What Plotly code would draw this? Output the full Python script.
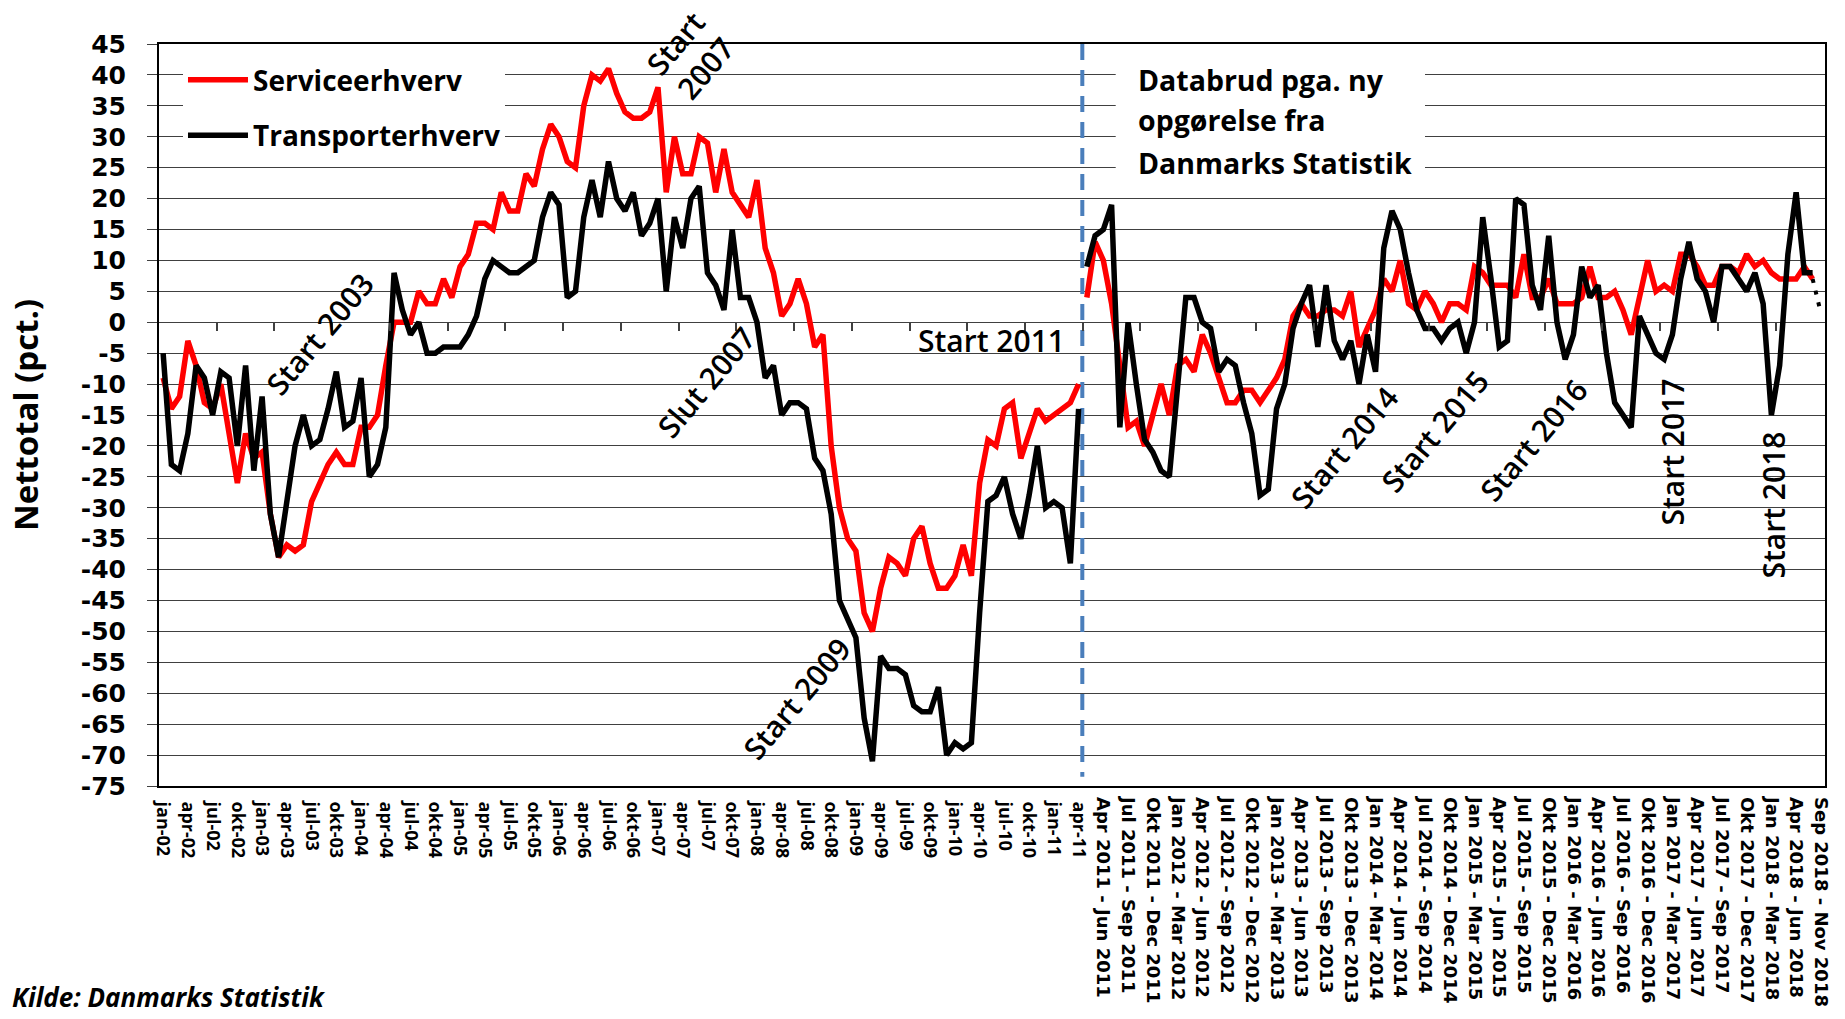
import plotly.graph_objects as go

# ---------------- data ----------------
# Section 1: monthly, jan-02 .. apr-11
service_1 = [-9, -14, -12, -3, -7, -13, -14, -10, -18, -26, -18, -22, -21, -31, -38, -36, -37, -36, -29, -26,
             -23, -21, -23, -23, -17, -17, -15, -7, 0, 0, 0, 5, 3, 3, 7, 4, 9, 11, 16, 16,
             15, 21, 18, 18, 24, 22, 28, 32, 30, 26, 25, 35, 40, 39, 41, 37, 34, 33, 33, 34,
             38, 21, 30, 24, 24, 30, 29, 21, 28, 21, 19, 17, 23, 12, 8, 1, 3, 7, 3, -4,
             -2, -20, -30, -35, -37, -47, -50, -43, -38, -39, -41, -35, -33, -39, -43, -43, -41, -36, -41, -26,
             -19, -20, -14, -13, -22, -18, -14, -16, -15, -14, -13, -10]
transport_1 = [-5, -23, -24, -18, -7, -9, -15, -8, -9, -20, -7, -24, -12, -31, -38, -29, -20, -15, -20, -19,
               -14, -8, -17, -16, -9, -25, -23, -17, 8, 2, -2, 0, -5, -5, -4, -4, -4, -2, 1, 7,
               10, 9, 8, 8, 9, 10, 17, 21, 19, 4, 5, 17, 23, 17, 26, 20, 18, 21, 14, 16,
               20, 5, 17, 12, 20, 22, 8, 6, 2, 15, 4, 4, 0, -9, -7, -15, -13, -13, -14, -22,
               -24, -31, -45, -48, -51, -64, -71, -54, -56, -56, -57, -62, -63, -63, -59, -70, -68, -69, -68, -47,
               -29, -28, -25, -31, -35, -28, -20, -30, -29, -30, -39, -14]
# Section 2: rolling 3-month periods after the data break
service_2 = [4, 13, 10, 3, -7, -17, -16, -20, -15, -10, -15, -7, -6, -8, -2, -5, -9, -13, -13, -11,
             -11, -13, -11, -9, -6, 1, 3, 1, 1, 2, 2, 1, 5, -4, -1, 2, 7, 5, 10, 3,
             2, 5, 3, 0, 3, 3, 2, 9, 8, 6, 6, 6, 4, 11, 4, 4, 7, 3, 3, 3,
             4, 9, 4, 4, 5, 2, -2, 4, 10, 5, 6, 5, 11, 11, 9, 6, 6, 9, 9, 8,
             11, 9, 10, 8, 7, 7, 7, 9, 7]
transport_2 = [9, 14, 15, 19, -17, 0, -10, -19, -21, -24, -25, -11, 4, 4, 0, -1, -8, -6, -7, -13,
               -18, -28, -27, -14, -10, -1, 3, 6, -4, 6, -3, -6, -3, -10, -2, -8, 12, 18, 15, 8,
               2, -1, -1, -3, -1, 0, -5, 0, 17, 7, -4, -3, 20, 19, 6, 2, 14, 0, -6, -2,
               9, 4, 6, -5, -13, -15, -17, 1, -2, -5, -6, -2, 7, 13, 7, 5, 0, 9, 9, 7,
               5, 8, 3, -15, -7, 11, 21, 8, 8]
end_dotted = [7, 1.5]

tick_labels_1 = ["jan-02", "apr-02", "jul-02", "okt-02", "jan-03", "apr-03", "jul-03", "okt-03",
                 "jan-04", "apr-04", "jul-04", "okt-04", "jan-05", "apr-05", "jul-05", "okt-05",
                 "jan-06", "apr-06", "jul-06", "okt-06", "jan-07", "apr-07", "jul-07", "okt-07",
                 "jan-08", "apr-08", "jul-08", "okt-08", "jan-09", "apr-09", "jul-09", "okt-09",
                 "jan-10", "apr-10", "jul-10", "okt-10", "jan-11", "apr-11"]
tick_labels_2 = ["Apr 2011 - Jun 2011", "Jul 2011 - Sep 2011", "Okt 2011 - Dec 2011",
                 "Jan 2012 - Mar 2012", "Apr 2012 - Jun 2012", "Jul 2012 - Sep 2012", "Okt 2012 - Dec 2012",
                 "Jan 2013 - Mar 2013", "Apr 2013 - Jun 2013", "Jul 2013 - Sep 2013", "Okt 2013 - Dec 2013",
                 "Jan 2014 - Mar 2014", "Apr 2014 - Jun 2014", "Jul 2014 - Sep 2014", "Okt 2014 - Dec 2014",
                 "Jan 2015 - Mar 2015", "Apr 2015 - Jun 2015", "Jul 2015 - Sep 2015", "Okt 2015 - Dec 2015",
                 "Jan 2016 - Mar 2016", "Apr 2016 - Jun 2016", "Jul 2016 - Sep 2016", "Okt 2016 - Dec 2016",
                 "Jan 2017 - Mar 2017", "Apr 2017 - Jun 2017", "Jul 2017 - Sep 2017", "Okt 2017 - Dec 2017",
                 "Jan 2018 - Mar 2018", "Apr 2018 - Jun 2018", "Sep 2018 - Nov 2018"]
y_tick_values = list(range(-75, 50, 5))
y_tick_labels = [str(v) for v in y_tick_values]

# ---------------- positions (category index) ----------------
n1 = len(service_1)
x1 = list(range(n1))
x2 = list(range(n1, n1 + len(service_2)))
x_end = [x2[-1], x2[-1] + 1]
n_total = n1 + 90
xrange = [-0.5, n_total - 0.5]
tickvals_1 = list(range(0, n1, 3))
tickvals_2 = list(range(n1 + 2, n_total, 3))
zero_ticks = [k - 0.5 for k in range(7, n_total, 7)]

RED = "#FF0000"
BLACK = "#000000"
GRID = "#404040"
LW = 5.5

fig = go.Figure()
fig.add_trace(go.Scatter(x=x1, y=service_1, mode="lines", name="Serviceerhverv",
                         legendgroup="s", line=dict(color=RED, width=LW)))
fig.add_trace(go.Scatter(x=x2, y=service_2, mode="lines", name="Serviceerhverv",
                         legendgroup="s", showlegend=False, xaxis="x2", line=dict(color=RED, width=LW)))
fig.add_trace(go.Scatter(x=x1, y=transport_1, mode="lines", name="Transporterhverv",
                         legendgroup="t", line=dict(color=BLACK, width=LW)))
fig.add_trace(go.Scatter(x=x2, y=transport_2, mode="lines", name="Transporterhverv",
                         legendgroup="t", showlegend=False, xaxis="x2", line=dict(color=BLACK, width=LW)))
fig.add_trace(go.Scatter(x=x_end, y=end_dotted, mode="lines", showlegend=False, xaxis="x3",
                         hoverinfo="skip", line=dict(color=BLACK, width=4, dash="4px,8px")))

fig.update_layout(
    width=1845, height=1019,
    margin=dict(l=159, r=20, t=44, b=231),
    paper_bgcolor="white", plot_bgcolor="white",
    font=dict(family="Open Sans", color="black"),
    showlegend=True,
    legend=dict(x=0.0144, y=0.985, xanchor="left", yanchor="top", bgcolor="white",
                borderwidth=0, font=dict(family="Open Sans", size=28, weight="bold", color="black"),
                tracegroupgap=16, itemwidth=60, entrywidth=287, entrywidthmode="pixels"),
    xaxis=dict(range=xrange, tickmode="array", tickvals=tickvals_1, ticktext=tick_labels_1,
               tickangle=90, tickfont=dict(family="Open Sans", size=18, weight="bold", color="black"),
               ticks="", showgrid=False, zeroline=False, showline=True, mirror=True,
               linecolor="black", linewidth=2, ticklabelstandoff=10, fixedrange=True),
    xaxis2=dict(range=xrange, overlaying="x", anchor="y", side="bottom", tickmode="array",
                tickvals=tickvals_2, ticktext=tick_labels_2, tickangle=90,
                tickfont=dict(family="DejaVu Sans", size=18, weight="bold", color="black"),
                ticks="", showgrid=False, zeroline=False, showline=False, ticklabelstandoff=10,
                fixedrange=True),
    xaxis3=dict(range=xrange, overlaying="x", anchor="free", position=75 / 120, side="bottom",
                tickmode="array", tickvals=zero_ticks, ticks="outside", ticklen=8, tickwidth=1.5,
                tickcolor=GRID, showticklabels=False, showgrid=False, zeroline=False,
                showline=False, fixedrange=True),
    yaxis=dict(range=[-75, 45], tickmode="array", tickvals=y_tick_values, ticktext=y_tick_labels,
               tickfont=dict(family="DejaVu Sans", size=25, weight="bold", color="black"),
               ticks="outside", ticklen=10, tickcolor=GRID, tickwidth=1.2,
               showgrid=True, gridcolor=GRID, gridwidth=1.2, zeroline=False,
               showline=True, mirror=True, linecolor="black", linewidth=2,
               ticklabelstandoff=16, fixedrange=True,
               title=dict(text="Nettotal (pct.)", standoff=32,
                          font=dict(family="Open Sans", size=33, weight="bold", color="black"))),
)

# white box behind the data-break note + dashed break line
fig.add_shape(type="rect", xref="x", yref="y", x0=115.5, x1=153.0, y0=22.3, y1=43.7,
              fillcolor="white", line=dict(width=0), layer="between")
fig.add_shape(type="line", xref="x", yref="y", x0=111.45, x1=111.45, y0=45, y1=-73.5,
              line=dict(color="#4A7EBB", width=4, dash="16px,10px"), layer="between")

ann_font = dict(family="Open Sans", size=30, weight=600, color="black")
labels = [
    ("Start 2003", 19.0, -1.8, -50),
    ("Start<br>2007", 64.0, 43.2, -50),
    ("Slut 2007", 65.8, -9.7, -50),
    ("Start 2011", 100.4, -2.9, 0),
    ("Start 2009", 76.8, -60.8, -50),
    ("Start 2014", 143.2, -20.3, -50),
    ("Start 2015", 154.1, -17.6, -50),
    ("Start 2016", 166.1, -19.1, -50),
    ("Start 2017", 183.0, -21.0, -90),
    ("Start 2018", 195.3, -29.5, -90),
]
for txt, ax, ay, ang in labels:
    fig.add_annotation(text=txt, x=ax, y=ay, xref="x", yref="y", showarrow=False,
                       textangle=ang, xanchor="center", yanchor="middle", font=ann_font)

note_lines = ["Databrud pga. ny", "opgørelse fra", "Danmarks Statistik"]
for txt, ay in zip(note_lines, [39.2, 32.7, 25.8]):
    fig.add_annotation(text=txt, x=117.9, y=ay, xref="x", yref="y", showarrow=False,
                       xanchor="left", yanchor="middle",
                       font=dict(family="Open Sans", size=28.5, weight="bold", color="black"))

fig.add_annotation(text="Kilde: Danmarks Statistik", xref="paper", yref="paper",
                   x=-0.0894, y=-0.285, xanchor="left", yanchor="middle", showarrow=False,
                   font=dict(family="Open Sans", size=26, style="italic", weight="bold", color="black"))

fig.write_html("out.html", config={"displayModeBar": False},
               post_script="document.body.style.margin='0';document.body.style.overflow='hidden';")
